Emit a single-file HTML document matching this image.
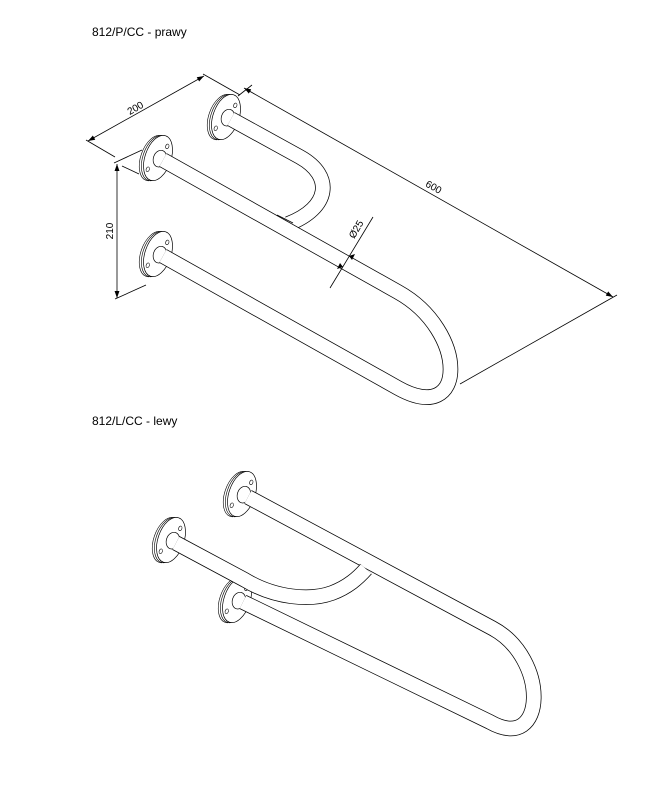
<!DOCTYPE html>
<html><head><meta charset="utf-8"><style>
html,body{margin:0;padding:0;background:#fff;}
svg{display:block;}
text{font-family:"Liberation Sans",Arial,sans-serif;fill:#000;}
</style></head><body>
<svg width="659" height="793" viewBox="0 0 659 793" xmlns="http://www.w3.org/2000/svg">
<defs>
<g id="fl">
<ellipse cx="-4" cy="1.5" rx="13" ry="23.5" fill="#fff" stroke="#000" stroke-width="0.6"/>
<ellipse cx="-2" cy="0.8" rx="13" ry="23.5" fill="#fff" stroke="#000" stroke-width="0.6"/>
<ellipse cx="0" cy="0" rx="13" ry="23.5" fill="#fff" stroke="#000" stroke-width="0.7"/>
<ellipse cx="5" cy="-14" rx="1.6" ry="2.4" fill="#fff" stroke="#000" stroke-width="0.6"/>
<ellipse cx="-6" cy="14" rx="1.6" ry="2.4" fill="#fff" stroke="#000" stroke-width="0.6"/>
<ellipse cx="2" cy="0" rx="6.5" ry="8.5" fill="#fff" stroke="#000" stroke-width="0.7"/>
</g>
<marker id="ar" viewBox="0 0 10 10" refX="10" refY="5" markerWidth="7" markerHeight="7" orient="auto-start-reverse" markerUnits="userSpaceOnUse">
<path d="M0,1.5 L10,5 L0,8.5 z" fill="#000"/>
</marker>
</defs>

<text x="92" y="36" font-size="12">812/P/CC - prawy</text>
<text x="92" y="425" font-size="12">812/L/CC - lewy</text>

<g fill="none" stroke="#000" stroke-width="0.8">
<line x1="88" y1="141" x2="204" y2="76" marker-start="url(#ar)" marker-end="url(#ar)"/>
<line x1="86" y1="140" x2="115" y2="157"/>
<line x1="203" y1="74" x2="240" y2="95"/>
<line x1="244" y1="88" x2="613" y2="297" marker-start="url(#ar)" marker-end="url(#ar)"/>
<line x1="238" y1="96" x2="252" y2="85"/>
<line x1="460" y1="384" x2="617" y2="295"/>
<line x1="117" y1="164" x2="117" y2="298" marker-start="url(#ar)" marker-end="url(#ar)"/>
<line x1="114" y1="163" x2="142" y2="150"/>
<line x1="122" y1="166" x2="139" y2="174"/>
<line x1="115" y1="299" x2="146" y2="285"/>
</g>
<text font-size="10" transform="translate(137,111) rotate(-30)" text-anchor="middle">200</text>
<text font-size="10" transform="translate(432,190) rotate(29)" text-anchor="middle">600</text>
<text font-size="10" transform="translate(113,231) rotate(-90)" text-anchor="middle">210</text>

<use href="#fl" transform="translate(226,117) rotate(19)"/>
<path d="M231,119 L300,157 C334,176 330,208 288,224" fill="none" stroke="#000" stroke-width="15.5"/>
<path d="M231,119 L300,157 C334,176 330,208 288,224" fill="none" stroke="#fff" stroke-width="14"/>
<use href="#fl" transform="translate(158,158) rotate(19)"/>
<use href="#fl" transform="translate(158,254) rotate(19)"/>
<path d="M163,160 L398,292 C468,331 468,427 398,388 L163,256" fill="none" stroke="#000" stroke-width="15.5"/>
<path d="M163,160 L398,292 C468,331 468,427 398,388 L163,256" fill="none" stroke="#fff" stroke-width="14"/>
<line x1="277" y1="215" x2="293" y2="223" stroke="#000" stroke-width="0.8"/>
<line x1="330" y1="288" x2="373" y2="217" stroke="#000" stroke-width="0.8"/>
<path d="M343,267 l-6,2 l3,-6 z M349,256 l6,-2 l-3,6 z" fill="#000"/>
<text font-size="10" transform="translate(359,231) rotate(-60)" text-anchor="middle">Ø25</text>

<use href="#fl" transform="translate(242,494) rotate(19)"/>
<use href="#fl" transform="translate(237,600) rotate(19)"/>
<path d="M248,497 L492,628 C549,658 547,754 490,722 L243,602" fill="none" stroke="#000" stroke-width="15.5"/>
<path d="M248,497 L492,628 C549,658 547,754 490,722 L243,602" fill="none" stroke="#fff" stroke-width="14"/>
<use href="#fl" transform="translate(171,540) rotate(19)"/>
<path d="M176,543 L245,580 C275,598 310,601 332,593 C348,587 358,578 366,569" fill="none" stroke="#000" stroke-width="15.5"/>
<path d="M176,543 L245,580 C275,598 310,601 332,593 C348,587 358,578 366,569" fill="none" stroke="#fff" stroke-width="14"/>
</svg>
</body></html>
